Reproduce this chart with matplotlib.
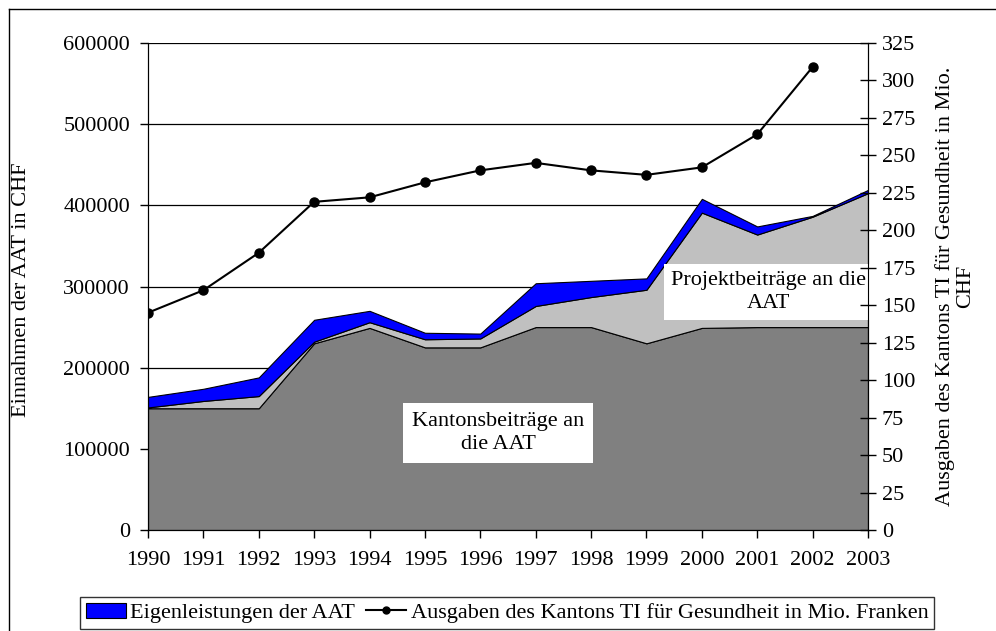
import numpy as np
import matplotlib.pyplot as plt
from matplotlib.patches import Patch
from matplotlib.lines import Line2D

plt.rcParams['font.family'] = ['Liberation Serif', 'DejaVu Serif']
plt.rcParams['font.size'] = 16

# Daten
jahre = np.arange(1990, 2004)
kantonsbeitraege = [150000, 150000, 150000, 230000, 249000, 225000, 225000,
                    250000, 250000, 230000, 249000, 250000, 250000, 250000]
projektbeitraege = [1000, 9000, 15000, 2000, 7000, 10000, 11000,
                    26000, 37000, 66000, 142000, 114000, 136000, 165000]
eigenleistungen = [13000, 15000, 23000, 27000, 14000, 8000, 6000,
                   28000, 20000, 14000, 17000, 10000, 1000, 4000]
ausgaben_ti = [145, 160, 185, 219, 222, 232, 240, 245, 240, 237, 242, 264, 309]
jahre_ti = jahre[:len(ausgaben_ti)]

fig = plt.figure(figsize=(9.96, 6.31), dpi=100)
ax = fig.add_axes([148 / 996, 1 - 530 / 631, 720 / 996, 487 / 631])

ax.stackplot(jahre, kantonsbeitraege, projektbeitraege, eigenleistungen,
             colors=['#808080', '#C0C0C0', '#0000FF'],
             edgecolor='black', linewidth=0.8, zorder=2)

ax.set_xlim(1990, 2003)
ax.set_ylim(0, 600000)
ax.set_xticks(jahre)
ax.set_yticks(np.arange(0, 600001, 100000))
ax.yaxis.grid(True, color='black', linewidth=0.9)
ax.set_axisbelow(True)
ax.tick_params(axis='x', direction='out', length=6, width=1, pad=9)
ax.tick_params(axis='y', direction='out', length=6, width=1, pad=7)
ax.spines['top'].set_visible(False)

ax.text(1996.32, 119500, 'Kantonsbeiträge an\ndie AAT', ha='center', va='center',
        linespacing=1.3, zorder=5,
        bbox=dict(facecolor='white', edgecolor='none', pad=6))
ax.text(2001.21, 293000, 'Projektbeiträge an die\nAAT', ha='center', va='center',
        linespacing=1.3, zorder=5,
        bbox=dict(facecolor='white', edgecolor='none', pad=5))

ax2 = ax.twinx()
ax2.plot(jahre_ti, ausgaben_ti, color='black', linewidth=1.5,
         marker='o', markersize=6.5, zorder=4)
ax2.set_ylim(0, 325)
ax2.set_yticks(np.arange(0, 326, 25))
ax2.tick_params(axis='y', direction='inout', length=12, width=1, pad=4)
ax2.spines['top'].set_visible(False)

fig.text(22 / 996, 1 - 290 / 631, 'Einnahmen der AAT in CHF', rotation=90,
         ha='center', va='center')
fig.text(955 / 996, 1 - 286 / 631, 'Ausgaben des Kantons TI für Gesundheit in Mio.\nCHF',
         rotation=90, ha='center', va='center', multialignment='center',
         linespacing=1.05)

handles = [Patch(facecolor='#0000FF', edgecolor='black', linewidth=0.8),
           Line2D([0], [0], color='black', linewidth=1.5, marker='o', markersize=5)]
labels = ['Eigenleistungen der AAT',
          'Ausgaben des Kantons TI für Gesundheit in Mio. Franken']
leg = fig.legend(handles, labels, loc='upper center', bbox_to_anchor=(507 / 996, 1 - 597 / 631),
                 ncol=2, frameon=True, fancybox=False, edgecolor='black',
                 borderpad=0.25, handlelength=1.8, handletextpad=0.2,
                 columnspacing=0.5, borderaxespad=0)
leg.get_frame().set_linewidth(1)

# äusserer Rahmen
fig.add_artist(Line2D([9 / 996, 9 / 996], [0, 1 - 9 / 631], color='black', linewidth=1))
fig.add_artist(Line2D([9 / 996, 1], [1 - 9 / 631, 1 - 9 / 631], color='black', linewidth=1))

fig.savefig('out.png', dpi=100)
